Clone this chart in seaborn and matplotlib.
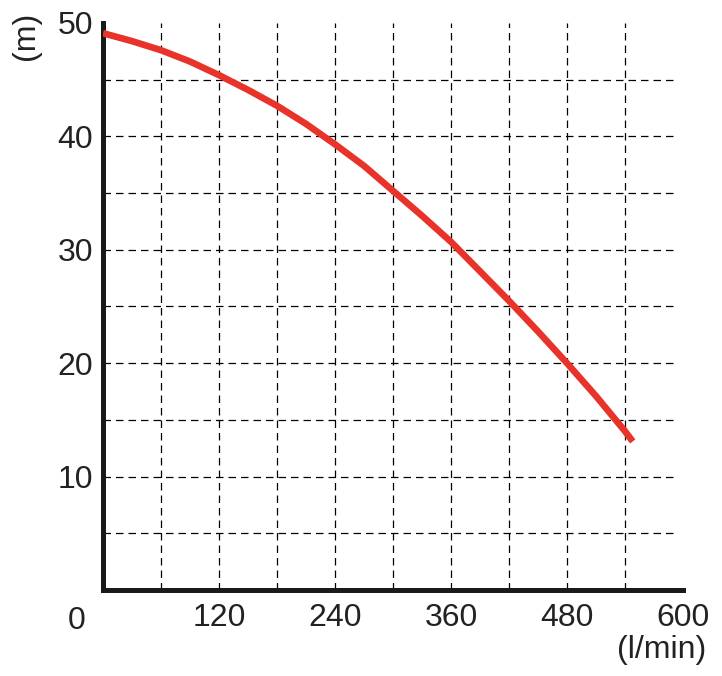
import matplotlib
matplotlib.use("Agg")
import matplotlib.pyplot as plt
import seaborn as sns
import pandas as pd

# Data
flow = [0, 30, 60, 90, 120, 150, 180, 210, 240, 270, 300, 330, 360,
        390, 420, 450, 480, 510, 540, 548]                      # l/min
head = [49.1, 48.4, 47.6, 46.6, 45.4, 44.1, 42.7, 41.1, 39.3, 37.4,
        35.2, 33.0, 30.7, 28.1, 25.5, 22.8, 20.0, 17.1, 14.0, 13.1]  # m
x_ticks = [120, 240, 360, 480, 600]
y_ticks = [10, 20, 30, 40, 50]
x_grid = [60, 120, 180, 240, 300, 360, 420, 480, 540]
y_grid = [5, 10, 15, 20, 25, 30, 35, 40, 45]

sns.set_theme(style="white")
plt.rcParams['font.family'] = ['Liberation Sans', 'DejaVu Sans']

fig = plt.figure(figsize=(7.22, 6.76), dpi=100)
ax = fig.add_axes([0.1427, 0.1272, 0.8033, 0.8388])

df = pd.DataFrame({"flow": flow, "head": head})
sns.lineplot(data=df, x="flow", y="head", ax=ax, color="#e8332b",
             linewidth=4.8, solid_capstyle="butt", solid_joinstyle="round",
             zorder=3)

ax.set_xlim(0, 600)
ax.set_ylim(0, 50)
ax.set_xticks(x_ticks)
ax.set_yticks(y_ticks)
ax.grid(False)
dash = dict(color="black", linestyle=(0, (6, 4)), linewidth=0.9, zorder=1)
for gx in x_grid:
    ax.axvline(gx, **dash)
for gy in y_grid:
    ax.axhline(gy, xmax=0.99, **dash)
ax.tick_params(which="both", length=0)
ax.tick_params(axis="x", labelsize=23, pad=9, colors="#222222")
ax.tick_params(axis="y", labelsize=23, pad=7, colors="#222222")

for side in ["top", "right"]:
    ax.spines[side].set_visible(False)
for side in ["left", "bottom"]:
    ax.spines[side].set_color("#1a1a1a")
    ax.spines[side].set_linewidth(3.6)

ax.set_xlabel("")
ax.set_ylabel("")
ax.annotate("0", xy=(0, 0), xycoords="data", xytext=(-19, -22),
            textcoords="offset points", ha="center", va="center",
            fontsize=23, color="#222222")
fig.text(662 / 722, 1 - 650 / 676, "(l/min)", ha="center", va="center",
         fontsize=23, color="#222222")
fig.text(26 / 722, 1 - 36 / 676, "(m)", ha="center", va="center",
         rotation=90, fontsize=23, color="#222222")

fig.savefig("out.png", dpi=100, facecolor="white")
